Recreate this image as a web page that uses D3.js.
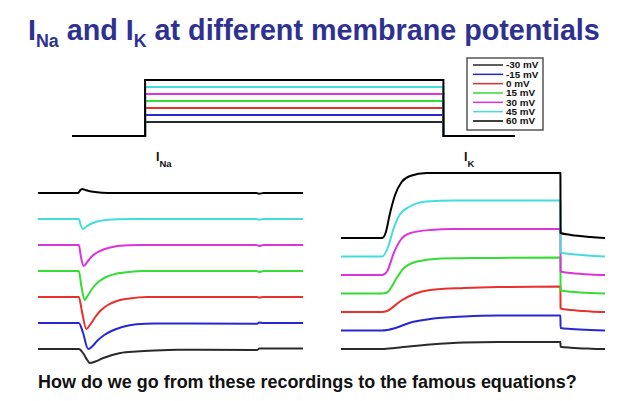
<!DOCTYPE html>
<html>
<head>
<meta charset="utf-8">
<script src="https://cdn.jsdelivr.net/npm/d3@7"></script>
<style>
  html, body { margin: 0; padding: 0; background: #ffffff; }
  svg { display: block; }
  text { font-family: "Liberation Sans", Arial, sans-serif; font-weight: bold; }
</style>
</head>
<body>
<svg id="chart" width="629" height="401"></svg>
<script>
// ---------------- DATA ----------------
const voltages = [-30, -15, 0, 15, 30, 45, 60];               // mV, step potentials
const legendLabels = ["-30 mV", "-15 mV", "0 mV", "15 mV", "30 mV", "45 mV", "60 mV"];
const holdingPotential = -60;                                  // mV
const stepOn = 0, stepOff = 10;                                // time (a.u.)
const timeDomain = [-2.3, 12.5];
const protocolTimeDomain = [-2.45, 12.4];

// I_Na traces: [time, current] (current in a.u., negative = inward)
const iNa_60  = [[-2.3,0],[-0.05,0],[0.05,0.25],[0.17,0.4],[0.35,0.3],[0.6,0.18],[1.0,0.07],[1.6,0.01],[2.2,0],[9.9,0],[10.05,-0.08],[10.3,0],[12.5,0]];
const iNa_45  = [[-2.3,0],[-0.02,0],[0.08,-0.6],[0.22,-1.0],[0.4,-0.75],[0.7,-0.45],[1.0,-0.25],[1.5,-0.1],[2.2,-0.02],[3,0],[9.9,0],[10.05,-0.08],[10.3,0],[12.5,0]];
const iNa_30  = [[-2.3,0],[-0.02,0],[0.1,-1.2],[0.25,-2.1],[0.45,-1.7],[0.7,-1.15],[1.0,-0.75],[1.4,-0.42],[2.0,-0.15],[2.8,-0.03],[3.5,0],[9.9,0],[10.05,-0.1],[10.3,0],[12.5,0]];
const iNa_15  = [[-2.3,0],[-0.02,0],[0.12,-1.5],[0.3,-2.9],[0.5,-2.4],[0.8,-1.6],[1.1,-1.05],[1.5,-0.6],[2.0,-0.3],[2.8,-0.1],[3.6,0],[9.9,0],[10.05,-0.1],[10.3,0],[12.5,0]];
const iNa_0   = [[-2.3,0],[-0.02,0],[0.15,-1.4],[0.4,-3.2],[0.6,-2.8],[0.9,-2.0],[1.2,-1.35],[1.6,-0.8],[2.1,-0.4],[2.8,-0.15],[3.8,0],[9.9,0],[10.05,-0.05],[10.3,0],[12.5,0]];
const iNa_m15 = [[-2.3,0],[-0.02,0],[0.2,-0.9],[0.5,-2.6],[0.75,-2.3],[1.0,-1.8],[1.4,-1.2],[1.8,-0.8],[2.4,-0.4],[3.2,-0.12],[4.2,-0.05],[9.95,-0.08],[10.05,0.05],[10.3,0],[12.5,0]];
const iNa_m30 = [[-2.3,0],[-0.02,0],[0.25,-0.5],[0.45,-1.1],[0.6,-1.4],[0.9,-1.25],[1.35,-0.9],[2.3,-0.4],[3.2,-0.25],[4.2,-0.15],[5.5,-0.08],[9.95,-0.1],[10.05,0.05],[10.4,0.05],[12.5,0.05]];

// I_K traces: [time, current] (current in a.u., positive = outward)
const iK_60  = [[-2.3,0],[0,0],[0.2,0.5],[0.45,2.5],[0.73,4.3],[1.1,5.6],[1.57,6.2],[2.5,6.5],[10,6.5],[10.01,0.5],[10.6,0.3],[11.7,0.1],[12.5,0]];
const iK_45  = [[-2.3,0],[0,0],[0.35,1.0],[0.63,2.7],[1.0,4.2],[1.57,5.0],[2.5,5.5],[4,5.6],[10,5.6],[10.01,0.4],[10.6,0.25],[11.7,0.08],[12.5,0]];
const iK_30  = [[-2.3,0],[0,0],[0.28,0.35],[0.66,2.2],[1.04,3.5],[1.6,4.2],[2.7,4.5],[4,4.6],[10,4.6],[10.01,0.35],[10.6,0.2],[11.7,0.05],[12.5,0]];
const iK_15  = [[-2.3,0],[0,0],[0.28,0.1],[0.84,1.6],[1.2,2.5],[1.97,3.2],[3.3,3.5],[6,3.55],[10,3.6],[10.01,0.3],[10.6,0.18],[11.7,0.05],[12.5,0]];
const iK_0   = [[-2.3,0],[0,0],[0.28,0.1],[1.04,1.1],[1.8,1.8],[2.7,2.2],[4.6,2.4],[6.5,2.5],[10,2.55],[10.01,0.35],[10.6,0.2],[11.7,0.06],[12.5,0]];
const iK_m15 = [[-2.3,0],[0,0],[0.28,0.05],[0.84,0.3],[1.6,0.8],[2.7,1.15],[4.6,1.4],[6.5,1.5],[10,1.5],[10.01,0.25],[10.6,0.15],[11.7,0.04],[12.5,0]];
const iK_m30 = [[-2.3,0],[0,0],[0.84,0.13],[2.7,0.45],[4.6,0.65],[6.5,0.7],[10,0.7],[10.01,0.23],[10.6,0.12],[11.7,0.03],[12.5,0]];

const naTraces = [iNa_m30, iNa_m15, iNa_0, iNa_15, iNa_30, iNa_45, iNa_60];
const kTraces  = [iK_m30, iK_m15, iK_0, iK_15, iK_30, iK_45, iK_60];

const titleText = "How do we go from these recordings to the famous equations?";

// ---------------- STYLE ----------------
const colors = ["#2a2a2a", "#2828d0", "#e8302c", "#33dd33", "#dd33dd", "#44dddd", "#000000"];
const titleColor = "#2e3192";

const svg = d3.select("#chart");

// ---------------- TITLE ----------------
function fitText(sel, targetWidth) {
  const w = sel.node().getComputedTextLength();
  const fs = parseFloat(sel.attr("font-size"));
  sel.attr("font-size", fs * targetWidth / w);
}
const title = svg.append("text").attr("x", 28).attr("y", 40)
  .attr("fill", titleColor).attr("font-size", 27);
title.append("tspan").text("I");
title.append("tspan").attr("font-size", "0.62em").attr("dy", 7).text("Na");
title.append("tspan").attr("dy", -7).text(" and I");
title.append("tspan").attr("font-size", "0.62em").attr("dy", 7).text("K");
title.append("tspan").attr("dy", -7).text(" at different membrane potentials");
{
  const bb = title.node().getBBox();
  const fs = 27 * (600 - 28) / bb.width;
  title.attr("font-size", fs);
}

// ---------------- VOLTAGE PROTOCOL ----------------
const xV = d3.scaleLinear().domain(protocolTimeDomain).range([72, 515]);
const yV = d3.scaleLinear().domain([-60, 60]).range([136, 80]);
const lineV = d3.line().x(d => xV(d[0])).y(d => yV(d[1]));
voltages.forEach((v, i) => {
  const pts = [[protocolTimeDomain[0], holdingPotential], [stepOn, holdingPotential], [stepOn, v],
               [stepOff, v], [stepOff, holdingPotential], [protocolTimeDomain[1], holdingPotential]];
  svg.append("path").attr("d", lineV(pts)).attr("fill", "none")
    .attr("stroke", colors[i]).attr("stroke-width", 2);
});

// Legend
const legend = svg.append("g");
legend.append("rect").attr("x", 467).attr("y", 58).attr("width", 76).attr("height", 72)
  .attr("fill", "#fff").attr("stroke", "#555").attr("stroke-width", 1.5);
const legendY = d3.scalePoint().domain(legendLabels).range([65, 121]);
legendLabels.forEach((lab, i) => {
  legend.append("line").attr("x1", 473).attr("x2", 503)
    .attr("y1", legendY(lab)).attr("y2", legendY(lab))
    .attr("stroke", colors[i]).attr("stroke-width", 1.5);
  const t = legend.append("text").attr("x", 506).attr("y", legendY(lab) + 3.2)
    .attr("font-size", 9).attr("fill", "#111").text(lab);
  const w = t.node().getComputedTextLength();
  t.attr("textLength", w * 1.1).attr("lengthAdjust", "spacingAndGlyphs");
});

// ---------------- CURRENT PANELS ----------------
const rowOrder = voltages.slice().reverse(); // top row = 60 mV
function panel(traces, xRange, rowRange, label, labelX, labelY) {
  const x = d3.scaleLinear().domain(timeDomain).range(xRange);
  const row = d3.scalePoint().domain(rowOrder).range(rowRange);
  const amp = d3.scaleLinear().domain([0, 1]).range([0, -10]);
  traces.forEach((tr, i) => {
    const v = voltages[i];
    const line = d3.line().x(d => x(d[0])).y(d => row(v) + amp(d[1])).curve(d3.curveMonotoneX);
    svg.append("path").attr("d", line(tr)).attr("fill", "none")
      .attr("stroke", colors[i]).attr("stroke-width", 2).attr("stroke-linejoin", "round");
  });
  const t = svg.append("text").attr("x", labelX).attr("y", labelY).attr("font-size", 12.5).attr("fill", "#111");
  t.append("tspan").text("I");
  t.append("tspan").attr("font-size", 9.5).attr("dy", 6).text(label);
}
panel(naTraces, [38, 303], [193, 349], "Na", 156, 161);
panel(kTraces, [341, 605], [238, 349], "K", 464, 161);

// ---------------- BOTTOM QUESTION ----------------
const q = svg.append("text").attr("x", 38).attr("y", 388).attr("font-size", 17)
  .attr("fill", "#111").text(titleText);
fitText(q, 577 - 38);
</script>
</body>
</html>
